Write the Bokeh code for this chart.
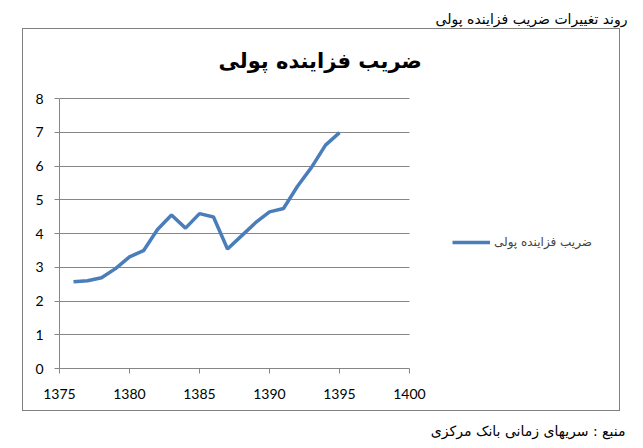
from bokeh.plotting import figure
from bokeh.models import (Title, Legend, LegendItem, FixedTicker, Range1d,
                          ColumnDataSource)
from bokeh.embed import file_html
from bokeh.resources import INLINE

# ---- data ----
years = [1376, 1377, 1378, 1379, 1380, 1381, 1382, 1383, 1384, 1385,
         1386, 1387, 1388, 1389, 1390, 1391, 1392, 1393, 1394, 1395]
multiplier = [2.57, 2.60, 2.69, 2.96, 3.31, 3.49, 4.12, 4.55, 4.16, 4.59,
              4.49, 3.54, 3.93, 4.32, 4.64, 4.74, 5.40, 5.96, 6.62, 6.99]
x_ticks = [1375, 1380, 1385, 1390, 1395, 1400]
y_ticks = [0, 1, 2, 3, 4, 5, 6, 7, 8]
series_name = "ضریب فزاینده پولی"
chart_title = "ضریب فزاینده پولی"
top_caption = "روند تغییرات ضریب فزاینده پولی"
source_caption = "منبع : سریهای زمانی بانک مرکزی"

LINE_COLOR = "#4A7EBB"
GRID = "#868686"
BOX = "#808080"
W, H = 643, 448
FL, FR, FT, FB = 59, 627, 97, 368      # frame edges on the page
PX_PER_YEAR = 14.0                     # 1375 -> x=59, 1400 -> x=409
x_end = x_ticks[0] + (FR - FL) / PX_PER_YEAR

# outer chart border drawn by CSS on the figure element
box_css = {
    "background-image": ", ".join([f"linear-gradient({BOX},{BOX})"] * 4),
    "background-size": "598px 1px, 598px 1px, 1px 383px, 1px 383px",
    "background-position": "22px 28px, 22px 410px, 22px 28px, 619px 28px",
    "background-repeat": "no-repeat",
}

p = figure(width=W, height=H, output_backend="svg", toolbar_location=None,
           x_range=Range1d(x_ticks[0], x_end), y_range=Range1d(0, 8.03),
           min_border_left=FL, min_border_right=W - FR,
           min_border_top=FT, min_border_bottom=H - FB, styles=box_css)
p.outline_line_color = None
p.background_fill_color = None
p.border_fill_color = None

src = ColumnDataSource(dict(x=years, y=multiplier))
r = p.line("x", "y", source=src, line_color=LINE_COLOR, line_width=3.5)

p.xgrid.visible = False
yg = p.ygrid[0]
yg.ticker = FixedTicker(ticks=y_ticks)
yg.grid_line_color = GRID
if "cross_bounds" in yg.properties():
    yg.cross_bounds = (x_ticks[0], x_ticks[-1])
else:
    yg.visible = False
    p.segment(x0=[x_ticks[0]] * len(y_ticks), x1=[x_ticks[-1]] * len(y_ticks),
              y0=y_ticks, y1=y_ticks, line_color=GRID, line_width=1,
              level="underlay")

for ax in (p.xaxis[0], p.yaxis[0]):
    ax.axis_line_color = GRID
    ax.major_tick_line_color = GRID
    ax.minor_tick_line_color = None
    ax.major_tick_in = 0
    ax.major_tick_out = 5
    ax.major_label_text_font = "Lato"
    ax.major_label_text_font_size = "14px"
    ax.major_label_text_color = "#000000"
p.xaxis.ticker = FixedTicker(ticks=x_ticks)
p.yaxis.ticker = FixedTicker(ticks=y_ticks)
p.xaxis.bounds = (x_ticks[0], x_ticks[-1])
p.yaxis.bounds = (y_ticks[0], y_ticks[-1])
p.xaxis.major_label_standoff = 15
p.yaxis.major_label_standoff = 11


def spacer(gap):
    return Title(text=" ", text_font_size="1px", standoff=gap)


# above: small gap, chart title, then the caption at the very top
p.add_layout(spacer(10), "above")
p.add_layout(Title(text=chart_title, align="left", offset=159,
                   text_font="DejaVu Sans", text_font_size="21px",
                   text_font_style="bold", text_color="#000000",
                   standoff=24), "above")
p.add_layout(Title(text=top_caption, align="right", offset=0,
                   text_font="DejaVu Sans", text_font_size="14px",
                   text_font_style="normal", text_color="#000000",
                   standoff=16), "above")

# below: x axis, small gap, source caption
p.add_layout(spacer(8), "below")
p.add_layout(Title(text=source_caption, align="right", offset=2,
                   text_font="DejaVu Sans", text_font_size="14px",
                   text_font_style="normal", text_color="#000000",
                   standoff=16), "below")

legend = Legend(items=[LegendItem(label=series_name, renderers=[r])],
                location=(393, 116), border_line_color=None,
                background_fill_alpha=0, label_text_font="DejaVu Sans",
                label_text_font_size="12px", glyph_width=38, glyph_height=20,
                label_height=20, label_standoff=4, padding=0, margin=0)
p.add_layout(legend, "center")

open("out.html", "w").write(file_html(p, INLINE))
